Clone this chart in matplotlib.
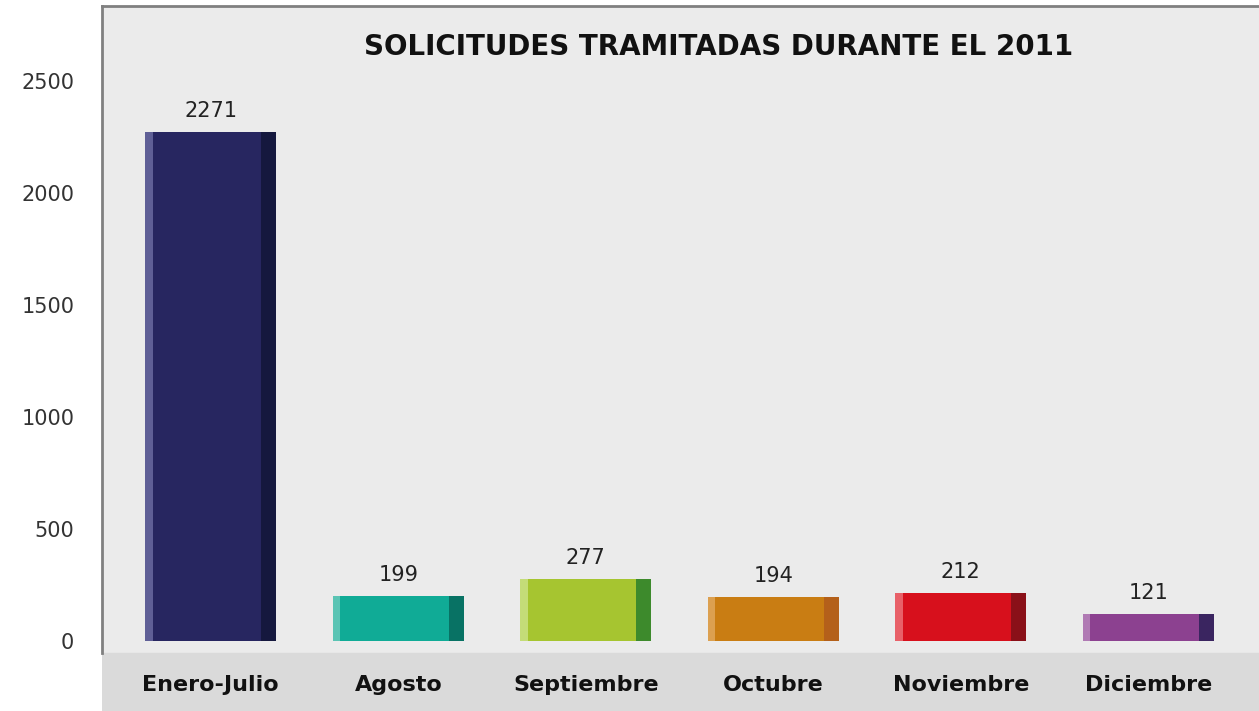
import matplotlib.pyplot as plt
import numpy as np

categories = ['Enero-Julio', 'Agosto', 'Septiembre', 'Octubre', 'Noviembre', 'Diciembre']
values = [2271, 199, 277, 194, 212, 121]
colors = ['#272660', '#10ab96', '#a6c530', '#c97d13', '#d7101c', '#8c4190']
dark = ['#15183e', '#087264', '#3d8a2c', '#b4601a', '#8a1018', '#3a2560']
light = ['#5f5f96', '#5ac4b4', '#c4dc78', '#dca050', '#e86068', '#b07ab4']
yticks = [0, 500, 1000, 1500, 2000, 2500]

fig = plt.figure(figsize=(12.59, 7.11), dpi=100)
fig.patch.set_facecolor('white')
ax = fig.add_axes([102 / 1259, 0, 1 - 102 / 1259, 1 - 6 / 711])
ax.set_facecolor('#ebebeb')

x = np.arange(len(categories))
w = 0.70
ax.set_xlim(-0.58, 5.59)
ax.set_ylim(-313, 2835)

# bottom band with category names
ax.axhspan(-313, -54, color='#dadada', zorder=0)

ax.bar(x, values, width=w, color=colors, zorder=2)
# simple bevel shading: light strip on the left, dark strip on the right
ax.bar(x - w / 2 + 0.02, values, width=0.04, color=light, zorder=3)
ax.bar(x + w / 2 - 0.04, values, width=0.08, color=dark, zorder=3)

for xi, v in zip(x, values):
    ax.text(xi, v + 50, str(v), ha='center', va='bottom', fontsize=15, color='#222222')

for xi, c in zip(x, categories):
    ax.text(xi, -195, c, ha='center', va='center', fontsize=16, fontweight='bold', color='#111111')

ax.set_xticks([])
ax.set_yticks(yticks)
ax.set_yticklabels([str(t) for t in yticks], fontsize=15, color='#333333')
ax.tick_params(axis='y', length=0, pad=20)

for s in ['right', 'bottom']:
    ax.spines[s].set_visible(False)
for s in ['left', 'top']:
    ax.spines[s].set_color('#808080')
    ax.spines[s].set_linewidth(2)
ax.spines['left'].set_bounds(-54, 2835)

ax.text(2.71, 2650, 'SOLICITUDES TRAMITADAS DURANTE EL 2011', ha='center', va='center',
        fontsize=20, fontweight='bold', color='#111111')

fig.savefig('out.png', dpi=100)
